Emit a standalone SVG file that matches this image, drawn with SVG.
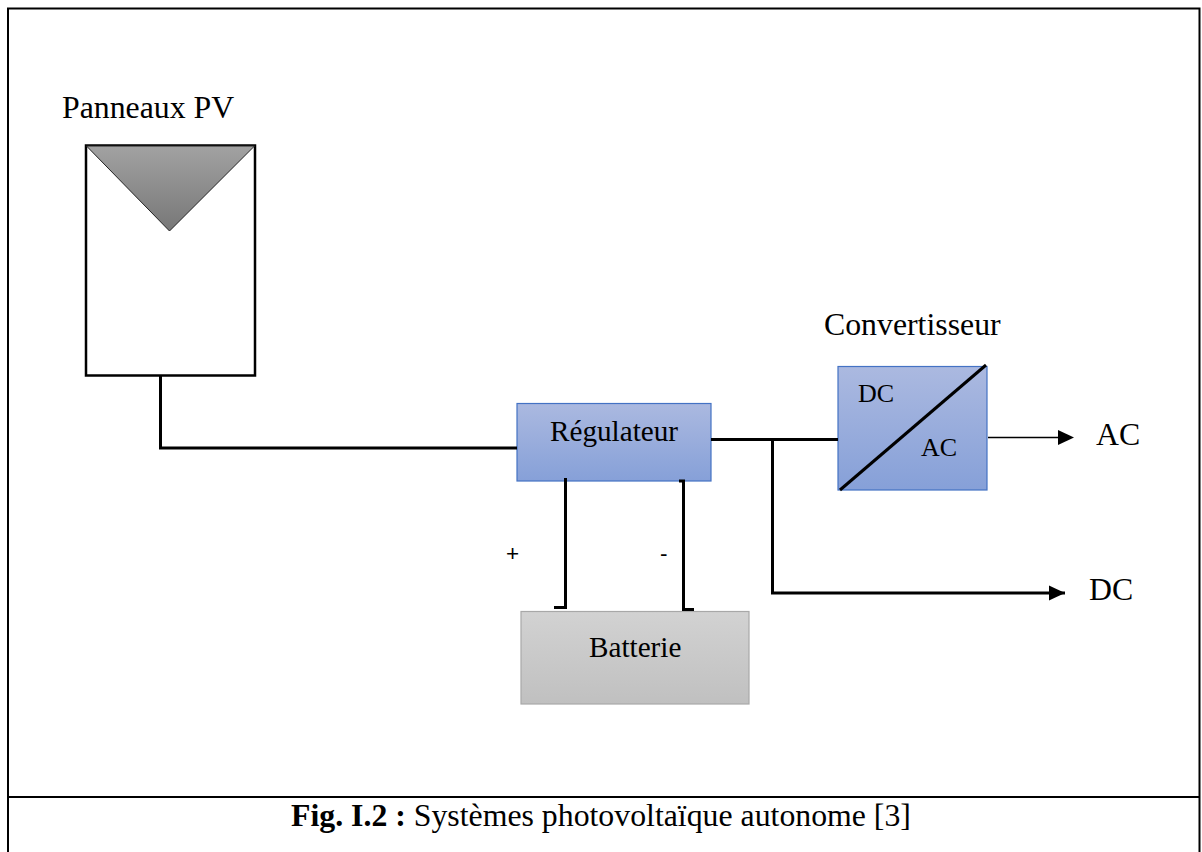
<svg xmlns="http://www.w3.org/2000/svg" width="1202" height="852" viewBox="0 0 1202 852">
<style>
text{font-family:"Liberation Serif","Times New Roman",serif;fill:#000}
.t32{font-size:31.8px}.t29{font-size:29.2px}.t26{font-size:26px}
.l{fill:none;stroke:#000;stroke-width:3}
.blue{fill:url(#blue);stroke:#4472c4;stroke-width:1.2}
</style>
<defs>
<linearGradient id="blue" x1="0" y1="0" x2="0" y2="1"><stop offset="0" stop-color="#abb9e0"/><stop offset="1" stop-color="#86a0d8"/></linearGradient>
<linearGradient id="grey" x1="0" y1="0" x2="0" y2="1"><stop offset="0" stop-color="#d2d2d2"/><stop offset="1" stop-color="#c0c0c0"/></linearGradient>
<linearGradient id="dark" x1="0" y1="0" x2="0" y2="1"><stop offset="0" stop-color="#a2a2a2"/><stop offset="1" stop-color="#777"/></linearGradient>
<marker id="arrow" markerUnits="userSpaceOnUse" markerWidth="16" markerHeight="16" refX="16" refY="8" orient="auto"><path d="M0 0.5L16 8L0 15.5Z" fill="#000"/></marker>
</defs>
<rect width="1202" height="852" fill="#fff"/>
<g id="frame"><path d="M8 852V8.500H1199.500V852" fill="none" stroke="#000" stroke-width="2"/><path d="M8 797H1199.500" fill="none" stroke="#000" stroke-width="2"/></g>
<g id="panneaux"><text class="t32" x="62" y="118">Panneaux PV</text><rect x="86" y="145.500" width="169" height="230" fill="#fff" stroke="#000" stroke-width="2.500"/><path d="M86.500 146H254.500L169.500 231Z" fill="url(#dark)" stroke="#222" stroke-width="1"/></g>
<g id="regulateur"><rect class="blue" x="517" y="403.500" width="194" height="77.500"/><text class="t29" x="550" y="441">Régulateur</text></g>
<g id="batterie"><rect x="521" y="611.500" width="228" height="92.500" fill="url(#grey)" stroke="#a8a8a8" stroke-width="1.200"/><text class="t29" x="589" y="657">Batterie</text></g>
<g id="convertisseur"><text class="t32" x="824" y="335">Convertisseur</text><rect class="blue" x="838" y="366.500" width="149" height="123.500"/><text class="t26" x="858" y="402">DC</text><text class="t26" x="921" y="456">AC</text></g>
<g id="connectors">
<path class="l" d="M160.500 375V448H517"/>
<path class="l" d="M711 439.500H838"/>
<path class="l" d="M772.500 439.500V593H1065" marker-end="url(#arrow)"/>
<path d="M988 437.500H1058" fill="none" stroke="#000" stroke-width="1.500"/><path d="M1058 430L1074 437.500L1058 445Z" fill="#000"/>
<path class="l" d="M565.500 478V607.500H554"/>
<path class="l" d="M679 481H683.500V609.500H694"/>
<path class="l" d="M840 490L986 365"/>
</g>
<g id="labels">
<text class="t32" x="1096" y="445">AC</text><text class="t32" x="1089" y="600">DC</text>
<text x="506" y="561" font-size="22.500" style="font-family:'Liberation Sans',Arial,sans-serif">+</text>
<text x="660" y="561" font-size="22.500" style="font-family:'Liberation Sans',Arial,sans-serif">-</text>
<text class="t32" x="291" y="826"><tspan font-weight="700">Fig. I.2 : </tspan>Systèmes photovoltaïque autonome [3]</text>
</g>
</svg>
